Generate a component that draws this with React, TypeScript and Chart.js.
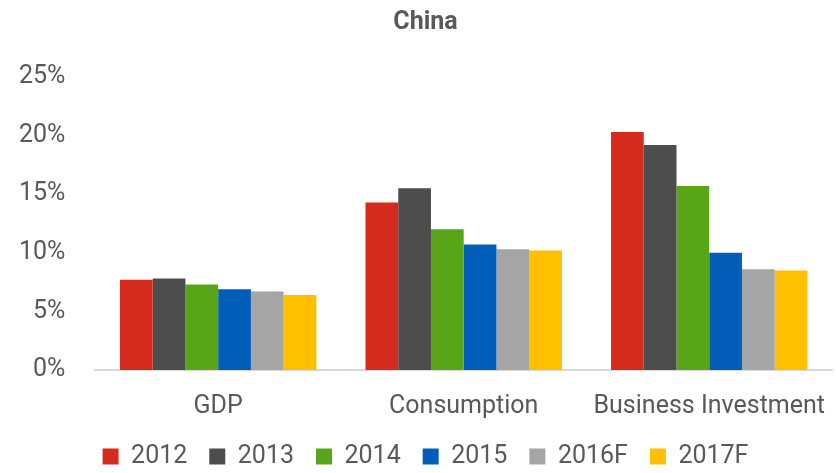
import React, { useEffect, useRef } from "react";
import { Chart, registerables } from "chart.js";

Chart.register(...registerables);

const categories = ["GDP", "Consumption", "Business Investment"];
const seriesNames = ["2012", "2013", "2014", "2015", "2016F", "2017F"];
const s2012 = [7.7, 14.3, 20.3];
const s2013 = [7.8, 15.5, 19.2];
const s2014 = [7.3, 12.0, 15.7];
const s2015 = [6.9, 10.7, 10.0];
const s2016F = [6.7, 10.3, 8.6];
const s2017F = [6.4, 10.2, 8.5];
const seriesValues = [s2012, s2013, s2014, s2015, s2016F, s2017F];
const seriesColors = ["#D52B1E", "#4D4D4D", "#58A618", "#005EB8", "#A5A5A5", "#FFC000"];
const yTicks = [0, 5, 10, 15, 20, 25];

const FONT = "Roboto, 'Liberation Sans', sans-serif";
const TEXT = "#595959";

export default function App() {
  const ref = useRef<HTMLCanvasElement>(null);
  useEffect(() => {
    document.body.style.margin = "0";
    document.body.style.overflow = "hidden";
    if (!ref.current) return;
    const chart = new Chart(ref.current, {
      type: "bar",
      data: {
        labels: categories,
        datasets: seriesNames.map((name, i) => ({
          label: name,
          data: seriesValues[i],
          backgroundColor: seriesColors[i],
          borderWidth: 0,
          categoryPercentage: 0.8,
          barPercentage: 1.0,
        })),
      },
      options: {
        animation: false,
        responsive: false,
        maintainAspectRatio: false,
        layout: { padding: { left: 19, right: 4, top: 0, bottom: -6 } },
        plugins: {
          title: {
            display: true,
            text: "China",
            color: TEXT,
            font: { family: FONT, size: 25, weight: "bold" },
            padding: { top: 8, bottom: 39 },
          },
          legend: {
            position: "bottom",
            labels: {
              color: TEXT,
              font: { family: FONT, size: 25 },
              boxWidth: 16,
              boxHeight: 16,
              padding: 22,
            },
          },
          tooltip: { enabled: false },
        },
        scales: {
          x: {
            grid: { display: false, drawTicks: true, tickLength: 22 },
            border: { display: true, color: "#D9D9D9", width: 2 },
            ticks: {
              color: TEXT,
              font: { family: FONT, size: 25 },
              padding: 0,
              maxRotation: 0,
              minRotation: 0,
              autoSkip: false,
            },
          },
          y: {
            min: 0,
            max: 25,
            afterBuildTicks: (axis: any) => {
              axis.ticks = yTicks.map((v) => ({ value: v }));
            },
            grid: { display: false, drawTicks: true, tickLength: 30 },
            border: { display: false },
            ticks: {
              color: TEXT,
              font: { family: FONT, size: 25 },
              padding: 0,
              callback: (v: any) => v + "%",
            },
          },
        },
      },
    });
    return () => chart.destroy();
  }, []);
  return (
    <div style={{ width: 836, height: 473 }}>
      <canvas ref={ref} width={836} height={473} style={{ display: "block" }} />
    </div>
  );
}
